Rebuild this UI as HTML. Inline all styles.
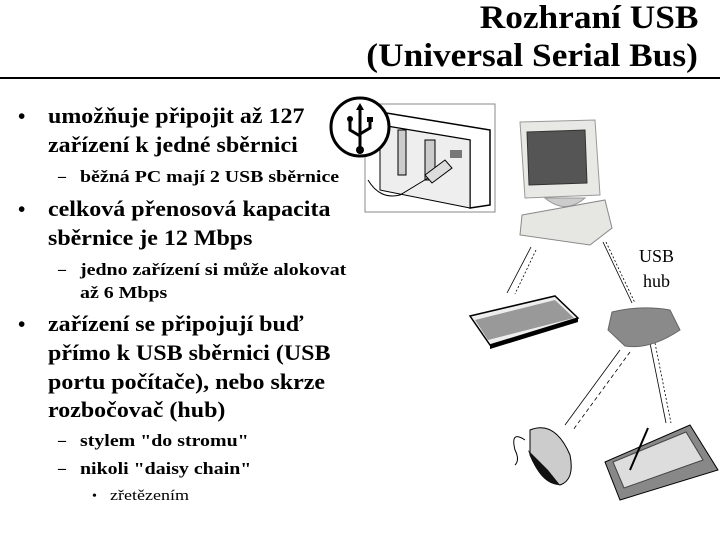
<!DOCTYPE html>
<html><head><meta charset="utf-8"><style>
body{margin:0;background:#fff;width:720px;height:540px;overflow:hidden;position:relative;font-family:"Liberation Serif",serif;color:#000}
.t{position:absolute;white-space:nowrap;line-height:1}
.h{right:22px;font-size:33px;font-weight:bold;transform-origin:right top}
.l1{left:48px;font-size:22px;font-weight:bold;transform:scaleX(1.09);transform-origin:left top}
.b1{left:18px;font-size:21px;font-weight:bold}
.l2{left:80px;font-size:17px;font-weight:bold;transform:scaleX(1.17);transform-origin:left top}
.d2{left:58px;font-size:16px;font-weight:bold}
.l3{left:110px;font-size:15px;transform:scaleX(1.2);transform-origin:left top}
.d3{left:92px;font-size:14px}
</style></head><body>
<div class="t h" style="top:2px;transform:scaleX(1.07)">Rozhraní USB</div>
<div class="t h" style="top:40px;transform:scaleX(1.07)">(Universal Serial Bus)</div>
<div style="position:absolute;left:0;top:77px;width:720px;height:2px;background:#000"></div>

<div class="t b1" style="top:106px">•</div><div class="t l1" style="top:105px">umožňuje připojit až 127</div>
<div class="t l1" style="top:134px">zařízení k jedné sběrnici</div>
<div class="t d2" style="top:169px">–</div><div class="t l2" style="top:168px">běžná PC mají 2 USB sběrnice</div>
<div class="t b1" style="top:199px">•</div><div class="t l1" style="top:198px">celková přenosová kapacita</div>
<div class="t l1" style="top:227px">sběrnice je 12 Mbps</div>
<div class="t d2" style="top:262px">–</div><div class="t l2" style="top:261px">jedno zařízení si může alokovat</div>
<div class="t l2" style="top:284px">až 6 Mbps</div>
<div class="t b1" style="top:314px">•</div><div class="t l1" style="top:313px">zařízení se připojují buď</div>
<div class="t l1" style="top:342px">přímo k USB sběrnici (USB</div>
<div class="t l1" style="top:371px">portu počítače), nebo skrze</div>
<div class="t l1" style="top:399px">rozbočovač (hub)</div>
<div class="t d2" style="top:433px">–</div><div class="t l2" style="top:432px">stylem "do stromu"</div>
<div class="t d2" style="top:461px">–</div><div class="t l2" style="top:460px">nikoli "daisy chain"</div>
<div class="t d3" style="top:490px">•</div><div class="t l3" style="top:489px">zřetězením</div>

<div class="t" style="left:639px;top:247px;font-size:18px">USB</div>
<div class="t" style="left:643px;top:272px;font-size:18px">hub</div>

<svg width="720" height="540" style="position:absolute;left:0;top:0" xmlns="http://www.w3.org/2000/svg">
<rect x="365" y="104" width="130" height="108" fill="#fff" stroke="#888" stroke-width="1"/>
<path d="M380 112 L490 130 L490 205 L470 208 L470 140 L380 125Z" fill="#fff" stroke="#000" stroke-width="1.5"/>
<path d="M380 125 L470 140 L470 208 L380 190Z" fill="#eee" stroke="#000"/>
<rect x="398" y="130" width="8" height="45" fill="#ccc" stroke="#000"/>
<rect x="425" y="140" width="10" height="40" fill="#ccc" stroke="#000"/>
<rect x="450" y="150" width="12" height="8" fill="#777"/>
<path d="M425 175 L445 160 L452 168 L432 183Z" fill="#ddd" stroke="#000"/>
<path d="M368 180 Q380 200 400 195 L428 178" fill="none" stroke="#000"/>
<circle cx="360" cy="127" r="29" fill="#fff" stroke="#000" stroke-width="3"/>
<path d="M360 108 L360 148 M350 120 L350 130 L360 136 M370 120 L370 128 L360 134" fill="none" stroke="#000" stroke-width="3"/>
<path d="M356 110 L360 103 L364 110Z" fill="#000"/><circle cx="360" cy="150" r="4" fill="#000"/><circle cx="350" cy="119" r="3" fill="#000"/><rect x="367" y="117" width="6" height="5" fill="#000"/>
<path d="M520 122 L595 120 L600 195 L525 198Z" fill="#e8e8e4" stroke="#999"/>
<path d="M527 132 L585 130 L587 183 L529 185Z" fill="#555" stroke="#333"/>
<path d="M545 198 Q565 215 585 198Z" fill="#ccc" stroke="#999"/>
<path d="M522 215 L605 200 L612 228 L590 245 L520 235Z" fill="#e6e6e2" stroke="#888"/>
<g stroke="#000" stroke-width="0.8" fill="none">
<line x1="531" y1="247" x2="507" y2="293"/><line x1="536" y1="250" x2="515" y2="294" stroke-dasharray="2,2"/>
<line x1="603" y1="242" x2="632" y2="303"/><line x1="606" y1="242" x2="635" y2="303" stroke-dasharray="2,2"/>
<line x1="620" y1="350" x2="565" y2="425"/><line x1="630" y1="352" x2="573" y2="430" stroke-dasharray="4,3"/>
<line x1="650" y1="343" x2="666" y2="423"/><line x1="655" y1="343" x2="671" y2="423" stroke-dasharray="2,2"/>
</g>
<path d="M470 316 L555 296 L578 318 L490 345Z" fill="#eee" stroke="#000" stroke-width="1.5"/>
<path d="M475 320 L555 300 L574 318 L488 340Z" fill="#999"/>
<path d="M490 345 L578 318 L578 322 L490 349Z" fill="#000"/>
<path d="M612 312 Q640 305 670 310 L680 330 Q650 350 625 346 L608 330Z" fill="#8a8a8a" stroke="#666"/>
<path d="M530 430 Q555 420 570 455 Q575 480 560 485 Q540 480 530 455Z" fill="#ccc" stroke="#000"/>
<path d="M528 450 Q540 485 560 485 L548 470Z" fill="#111"/>
<path d="M525 440 Q510 430 515 450 Q520 460 515 465" fill="none" stroke="#000"/>
<path d="M605 462 L690 425 L718 470 L620 500Z" fill="#888" stroke="#000"/>
<path d="M613 462 L686 432 L703 460 L624 488Z" fill="#ddd" stroke="#444"/>
<line x1="630" y1="470" x2="648" y2="428" stroke="#000" stroke-width="2"/>
</svg>
</body></html>
